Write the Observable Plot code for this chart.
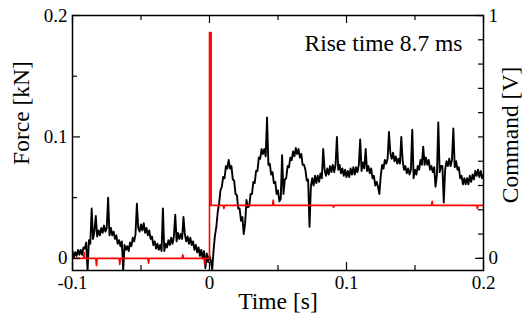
<!DOCTYPE html>
<html><head><meta charset="utf-8">
<script src="https://cdn.jsdelivr.net/npm/d3@7"></script>
<script src="https://cdn.jsdelivr.net/npm/@observablehq/plot@0.6"></script>
<style>body{margin:0;background:#fff;}</style>
</head><body><div id="chart"></div>
<script>
const sampleStart = -0.1;
const sampleStep = 0.001;
const forceN = [
  6,1,5,2,7,3,7,3,9,8,
  13,-10,15,12,41,16,22,35,18,23,
  19,25,21,27,22,25,50,19,25,19,
  22,16,19,12,15,10,14,-10,11,7,
  10,6,13,10,17,14,20,45,25,22,
  28,23,29,21,25,19,23,16,18,11,
  14,8,12,7,11,6,41,6,12,9,
  15,11,17,12,18,36,14,21,16,20,
  16,34,20,14,18,12,17,11,14,7,
  11,5,9,2,7,0,6,-8,4,-3,
  2,-2,-9,7,19,26,38,45,56,59,
  67,66,76,74,81,74,76,65,64,53,
  52,41,41,31,34,20,29,48,42,43,
  53,53,63,62,72,72,83,82,90,86,
  90,84,116,77,78,69,71,62,63,53,
  56,47,49,85,53,65,66,76,75,83,
  81,88,84,91,86,90,83,86,77,77,
  73,64,65,26,59,66,60,68,62,68,
  63,70,66,90,73,68,74,69,76,71,
  77,71,77,100,73,77,70,74,68,73,
  67,72,67,74,69,75,69,75,71,77,
  98,72,79,74,90,72,76,70,74,66,
  68,60,63,59,53,68,77,74,81,78,
  82,104,87,82,87,80,84,78,82,78,
  100,80,73,76,70,74,69,73,106,66,
  73,69,76,73,81,77,92,77,83,77,
  81,73,76,71,75,59,69,112,71,76,
  76,46,73,80,76,82,76,81,107,75,
  80,73,75,66,68,61,66,61,66,61,
  68,63,69,65,72,68,73,67,72,66,
  69
];

// Command signal (volts)
const cmdTime = [-0.1,-0.092,-0.0915,-0.091,-0.083,-0.0825,-0.082,-0.066,-0.0655,-0.065,-0.045,-0.0445,-0.044,-0.02,-0.0195,-0.019,-0.004,-0.0035,-0.003,0,0,0.0012,0.0012,0.01,0.0105,0.011,0.046,0.0465,0.047,0.09,0.0905,0.091,0.162,0.1625,0.163,0.195,0.1955,0.196,0.2];
const cmdVolt = [0,0,0.025,0,0,-0.03,0,0,-0.025,0,0,-0.02,0,0,0.015,0,0,-0.025,0,0,0.93,0.93,0.218,0.218,0.205,0.218,0.218,0.24,0.218,0.218,0.21,0.218,0.218,0.235,0.218,0.218,0.205,0.218,0.218];

// Axes
const timeTicks = [-0.1, 0, 0.1, 0.2];
const timeMinor = [-0.05, 0.05, 0.15];
const forceTicks = [0, 0.1, 0.2];
const forceMinor = [0.05, 0.15];
const cmdTicksV = [0,0.1,0.2,0.3,0.4,0.5,0.6,0.7,0.8,0.9,1];
const cmdLabeledV = [0, 1];
const voltToKN = 0.2; // right axis: 1 V spans the same height as 0.2 kN

const titles = {x: "Time [s]", yLeft: "Force [kN]", yRight: "Command [V]"};
const annotation = ["Rise time 8.7 ms"];

const force = forceN.map((v, i) => ({t: +(sampleStart + i * sampleStep).toFixed(4), f: v / 1000}));
const cmd = cmdTime.map((t, i) => ({t, f: cmdVolt[i] * voltToKN}));

const W = 523, H = 322, ML = 72, MR = 40, MT = 15, MB = 52;
const fw = W - ML - MR, fh = H - MT - MB;
const FONT = "Liberation Serif, Times New Roman, serif";

const chart = Plot.plot({
  width: W, height: H,
  marginLeft: ML, marginRight: MR, marginTop: MT, marginBottom: MB,
  style: {fontSize: "19px", background: "white", color: "black"},
  x: {domain: [-0.1, 0.2], label: null},
  y: {domain: [-0.01, 0.2], label: null},
  marks: [
    Plot.lineY(force, {x: "t", y: "f", stroke: "black", strokeWidth: 1.9, clip: true}),
    Plot.line(cmd, {x: "t", y: "f", stroke: "#ff0000", strokeWidth: 1.6, clip: true}),
    Plot.frame({stroke: "black", strokeWidth: 1.5}),
    // inward ticks
    Plot.ruleX(timeTicks, {x: d => d, insetTop: fh - 8, stroke: "black", strokeWidth: 1.2}),
    Plot.ruleX(timeTicks, {x: d => d, insetBottom: fh - 8, stroke: "black", strokeWidth: 1.2}),
    Plot.ruleX(timeMinor, {x: d => d, insetTop: fh - 5, stroke: "black", strokeWidth: 1.2}),
    Plot.ruleX(timeMinor, {x: d => d, insetBottom: fh - 5, stroke: "black", strokeWidth: 1.2}),
    Plot.ruleY(forceTicks, {y: d => d, insetRight: fw - 8, stroke: "black", strokeWidth: 1.2}),
    Plot.ruleY(forceMinor, {y: d => d, insetRight: fw - 5, stroke: "black", strokeWidth: 1.2}),
    Plot.ruleY(cmdTicksV.map(v => v * voltToKN), {y: d => d, insetLeft: fw - 5, stroke: "black", strokeWidth: 1.2}),
    Plot.ruleY(cmdLabeledV.map(v => v * voltToKN), {y: d => d, insetLeft: fw - 8, stroke: "black", strokeWidth: 1.2}),
    // tick labels
    Plot.axisX({ticks: timeTicks, tickSize: 0, tickPadding: 5, tickFormat: d => String(d), fontSize: 19, fontFamily: FONT, label: null}),
    Plot.axisY({ticks: forceTicks, tickSize: 0, tickPadding: 5, tickFormat: d => String(d), fontSize: 19, fontFamily: FONT, label: null}),
    Plot.axisY({anchor: "right", ticks: cmdLabeledV.map(v => v * voltToKN), tickSize: 0, tickPadding: 5,
      tickFormat: d => String(Math.round(d / voltToKN * 10) / 10), fontSize: 19, fontFamily: FONT, label: null}),
    // titles
    Plot.text([titles.x], {frameAnchor: "bottom", dy: 38, lineAnchor: "bottom", textAnchor: "middle", fontSize: 23.5, fontFamily: FONT}),
    Plot.text([titles.yLeft], {frameAnchor: "left", dx: 28.5 - ML, dy: -30, rotate: -90, lineAnchor: "bottom", textAnchor: "middle", fontSize: 23.5, fontFamily: FONT}),
    Plot.text([titles.yRight], {frameAnchor: "right", dx: 517 - (W - MR), dy: -8, rotate: -90, lineAnchor: "bottom", textAnchor: "middle", fontSize: 23.5, fontFamily: FONT}),
    Plot.text(annotation, {frameAnchor: "top-right", dx: -21, dy: 35, textAnchor: "end", lineAnchor: "bottom", fontSize: 23.5, fontFamily: FONT})
  ]
});
document.getElementById("chart").appendChild(chart);
</script>
</body></html>
